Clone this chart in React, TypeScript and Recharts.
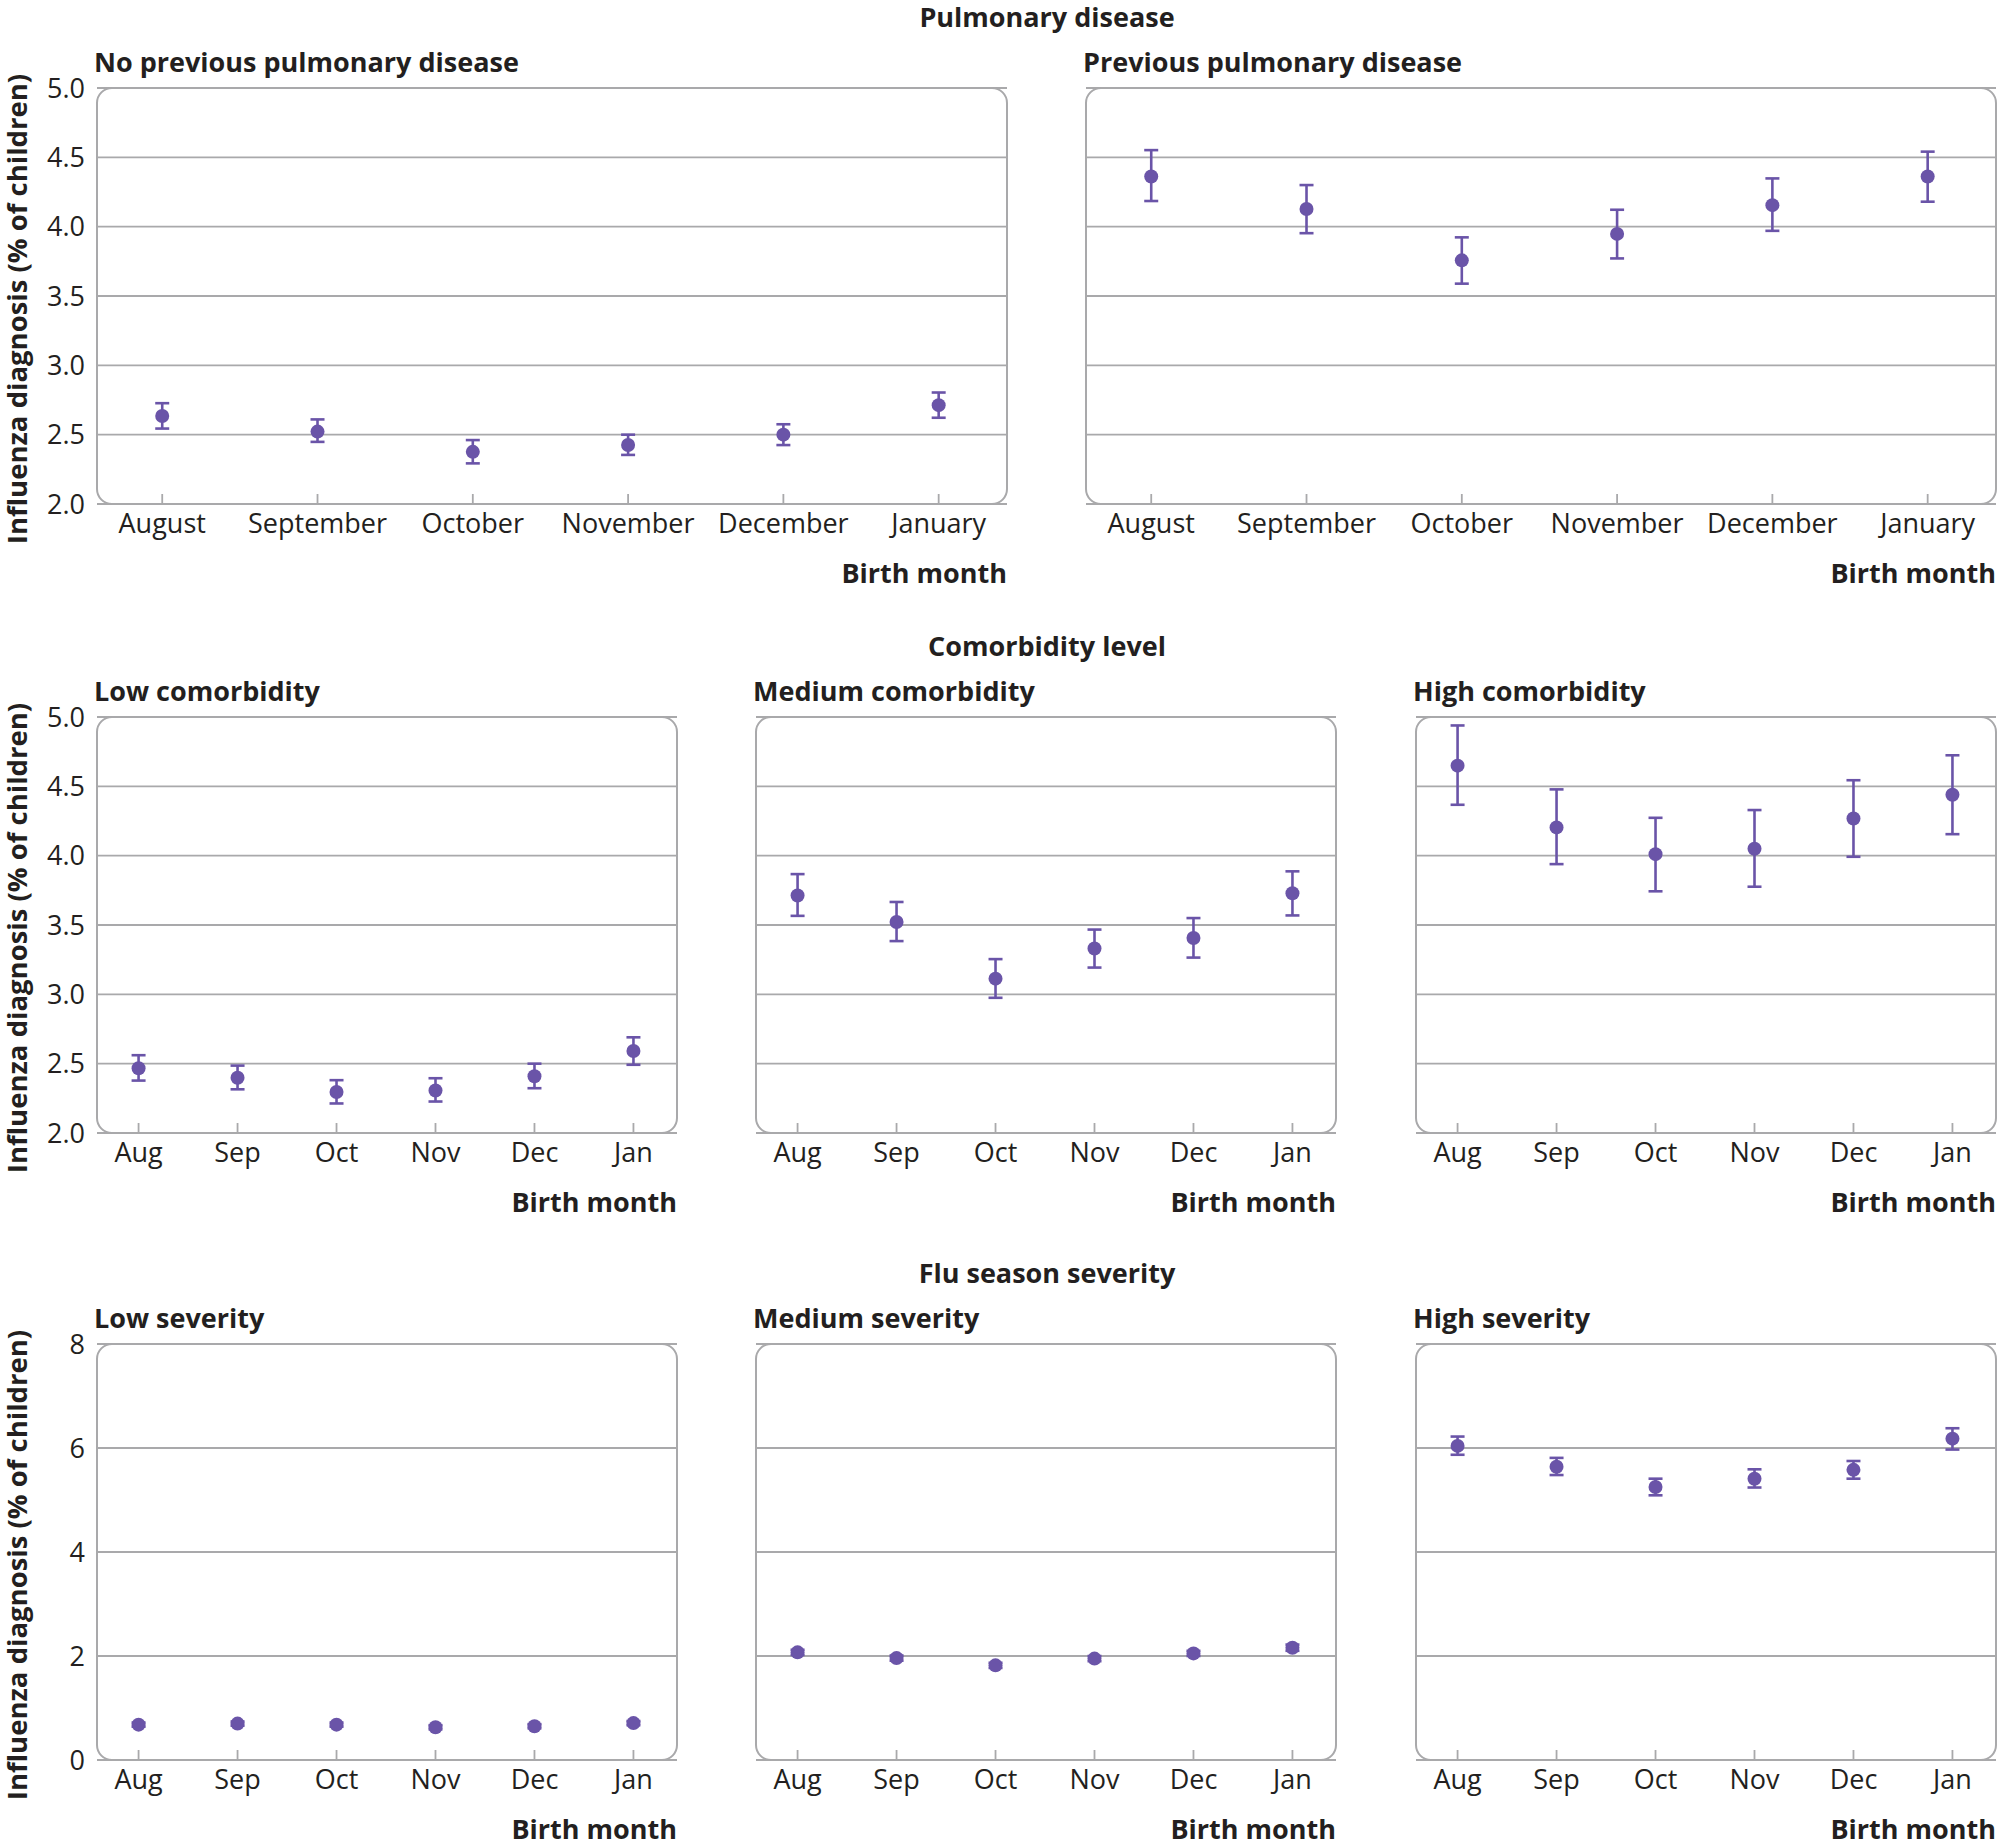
import React from "react";
import {
  ScatterChart,
  Scatter,
  XAxis,
  YAxis,
  CartesianGrid,
  ErrorBar,
  ReferenceArea,
} from "recharts";

const monthsLong = ["August", "September", "October", "November", "December", "January"];
const monthsShort = ["Aug", "Sep", "Oct", "Nov", "Dec", "Jan"];

// pulmonary disease
const noPulmVal = [2.635, 2.522, 2.376, 2.425, 2.5, 2.713];
const noPulmLow = [2.544, 2.448, 2.293, 2.354, 2.425, 2.622];
const noPulmHigh = [2.727, 2.61, 2.461, 2.5, 2.575, 2.804];

const pulmVal = [4.362, 4.127, 3.757, 3.948, 4.155, 4.362];
const pulmLow = [4.185, 3.953, 3.589, 3.771, 3.97, 4.18];
const pulmHigh = [4.552, 4.3, 3.923, 4.122, 4.348, 4.541];

// comorbidity level
const lowComVal = [2.467, 2.398, 2.296, 2.307, 2.409, 2.591];
const lowComLow = [2.378, 2.315, 2.213, 2.227, 2.323, 2.492];
const lowComHigh = [2.561, 2.486, 2.381, 2.395, 2.5, 2.69];

const medComVal = [3.713, 3.522, 3.113, 3.331, 3.406, 3.729];
const medComLow = [3.566, 3.384, 2.975, 3.193, 3.265, 3.569];
const medComHigh = [3.867, 3.666, 3.254, 3.467, 3.55, 3.887];

const highComVal = [4.649, 4.204, 4.011, 4.05, 4.268, 4.439];
const highComLow = [4.367, 3.939, 3.743, 3.776, 3.992, 4.155];
const highComHigh = [4.939, 4.478, 4.273, 4.329, 4.544, 4.724];

// flu season severity
const lowSevVal = [0.68, 0.7, 0.68, 0.63, 0.65, 0.71];
const lowSevLow = [0.64, 0.66, 0.64, 0.59, 0.61, 0.67];
const lowSevHigh = [0.72, 0.74, 0.72, 0.67, 0.69, 0.75];

const medSevVal = [2.07, 1.96, 1.82, 1.95, 2.05, 2.16];
const medSevLow = [2.02, 1.91, 1.77, 1.9, 2.0, 2.1];
const medSevHigh = [2.12, 2.01, 1.87, 2.0, 2.1, 2.22];

const highSevVal = [6.04, 5.64, 5.25, 5.41, 5.58, 6.18];
const highSevLow = [5.87, 5.48, 5.09, 5.24, 5.41, 5.97];
const highSevHigh = [6.22, 5.81, 5.41, 5.59, 5.75, 6.38];

const pctTicks = [2, 2.5, 3, 3.5, 4, 4.5, 5];
const sevTicks = [0, 2, 4, 6, 8];

const PURPLE = "#6a54a8";
const GRAY = "#a9a9ab";
const INK = "#231f20";
const FONT = "'Open Sans', sans-serif";
const FS = 27;

const X_DOMAIN = [-0.42, 5.44];
const PLOT_H = 416;
const M = 6;
const TOP_M = 22;

const build = (val: number[], low: number[], high: number[]) =>
  val.map((v, i) => ({ i, v, err: [v - low[i], high[i] - v] }));

type PanelProps = {
  title: string;
  labels: string[];
  data: { i: number; v: number; err: number[] }[];
  left: number;
  top: number;
  width: number;
  ticks: number[];
  showY: boolean;
  decimals: number;
};

const YAXIS_W = 77;

function Panel({ title, labels, data, left, top, width, ticks, showY, decimals }: PanelProps) {
  const yMin = ticks[0];
  const yMax = ticks[ticks.length - 1];
  const chartLeft = showY ? left - YAXIS_W - M : left - M;
  const chartW = width + (showY ? YAXIS_W : 0) + 2 * M;
  const chartH = PLOT_H + TOP_M + 44;

  const XTick = (p: any) => {
    const { x, y, payload } = p;
    return (
      <g>
        <line x1={x} x2={x} y1={y - 20} y2={y - 30} stroke={GRAY} strokeWidth={1.8} />
        <text x={x} y={y} dy="0.35em" textAnchor="middle" fill={INK} fontSize={FS}>
          {labels[payload.value]}
        </text>
      </g>
    );
  };

  return (
    <>
      <div
        style={{
          position: "absolute",
          left: left - 3,
          top: top - 27,
          transform: "translateY(-50%)",
          fontWeight: 700,
          fontSize: FS,
          lineHeight: 1,
          color: INK,
          whiteSpace: "nowrap",
        }}
      >
        {title}
      </div>
      <div style={{ position: "absolute", left: chartLeft, top: top - TOP_M }}>
        <ScatterChart width={chartW} height={chartH} margin={{ top: TOP_M, right: M, bottom: 0, left: M }}>
          <CartesianGrid vertical={false} stroke={GRAY} strokeWidth={1.8} />
          <XAxis
            type="number"
            dataKey="i"
            domain={X_DOMAIN}
            ticks={[0, 1, 2, 3, 4, 5]}
            allowDataOverflow
            axisLine={false}
            tickLine={false}
            tickSize={0}
            tickMargin={20}
            height={44}
            tick={XTick}
            interval={0}
          />
          <YAxis
            type="number"
            dataKey="v"
            domain={[yMin, yMax]}
            ticks={ticks}
            allowDataOverflow
            hide={!showY}
            width={YAXIS_W}
            axisLine={false}
            tickLine={false}
            tickSize={0}
            tickMargin={12}
            interval={0}
            tick={{ fill: INK, fontSize: FS }}
            tickFormatter={(v: number) => v.toFixed(decimals)}
          />
          <ReferenceArea
            x1={X_DOMAIN[0]}
            x2={X_DOMAIN[1]}
            y1={yMin}
            y2={yMax}
            ifOverflow="visible"
            shape={(p: any) => (
              <rect
                x={p.x}
                y={p.y}
                width={p.width}
                height={p.height}
                rx={15}
                ry={15}
                fill="none"
                stroke={GRAY}
                strokeWidth={2}
              />
            )}
          />
          <Scatter
            data={data}
            fill={PURPLE}
            isAnimationActive={false}
            shape={(p: any) => <circle cx={p.cx} cy={p.cy} r={7} fill={PURPLE} />}
          >
            <ErrorBar
              dataKey="err"
              direction="y"
              width={7}
              stroke={PURPLE}
              strokeWidth={2.6}
              isAnimationActive={false}
            />
          </Scatter>
        </ScatterChart>
      </div>
      <div
        style={{
          position: "absolute",
          left: left,
          width: width,
          top: top + PLOT_H + 68,
          transform: "translateY(-50%)",
          textAlign: "right",
          fontWeight: 700,
          fontSize: FS,
          lineHeight: 1,
          color: INK,
        }}
      >
        Birth month
      </div>
    </>
  );
}

const SectionTitle = ({ text, top }: { text: string; top: number }) => (
  <div
    style={{
      position: "absolute",
      left: 97,
      width: 1900,
      top: top - 72,
      transform: "translateY(-50%)",
      textAlign: "center",
      fontWeight: 700,
      fontSize: FS,
      lineHeight: 1,
      color: INK,
    }}
  >
    {text}
  </div>
);

const YLabel = ({ top }: { top: number }) => (
  <div
    style={{
      position: "absolute",
      left: 17,
      top: top + PLOT_H / 2 + 13,
      transform: "translate(-50%, -50%) rotate(-90deg)",
      fontWeight: 700,
      fontSize: 27.5,
      lineHeight: 1,
      color: INK,
      whiteSpace: "nowrap",
    }}
  >
    Influenza diagnosis (% of children)
  </div>
);

const ROW1 = 88;
const ROW2 = 717;
const ROW3 = 1344;
const COLS = [97, 756, 1416];
const W3 = 580;
const W2 = 910;

export default function App() {
  return (
    <div
      style={{
        position: "absolute",
        left: 0,
        top: 0,
        width: 2000,
        height: 1846,
        background: "#fff",
        fontFamily: FONT,
      }}
    >
      <SectionTitle text="Pulmonary disease" top={ROW1} />
      <SectionTitle text="Comorbidity level" top={ROW2} />
      <SectionTitle text="Flu season severity" top={ROW3} />
      <YLabel top={ROW1} />
      <YLabel top={ROW2} />
      <YLabel top={ROW3} />

      <Panel title="No previous pulmonary disease" labels={monthsLong} data={build(noPulmVal, noPulmLow, noPulmHigh)}
        left={97} top={ROW1} width={W2} ticks={pctTicks} showY decimals={1} />
      <Panel title="Previous pulmonary disease" labels={monthsLong} data={build(pulmVal, pulmLow, pulmHigh)}
        left={1086} top={ROW1} width={W2} ticks={pctTicks} showY={false} decimals={1} />

      <Panel title="Low comorbidity" labels={monthsShort} data={build(lowComVal, lowComLow, lowComHigh)}
        left={COLS[0]} top={ROW2} width={W3} ticks={pctTicks} showY decimals={1} />
      <Panel title="Medium comorbidity" labels={monthsShort} data={build(medComVal, medComLow, medComHigh)}
        left={COLS[1]} top={ROW2} width={W3} ticks={pctTicks} showY={false} decimals={1} />
      <Panel title="High comorbidity" labels={monthsShort} data={build(highComVal, highComLow, highComHigh)}
        left={COLS[2]} top={ROW2} width={W3} ticks={pctTicks} showY={false} decimals={1} />

      <Panel title="Low severity" labels={monthsShort} data={build(lowSevVal, lowSevLow, lowSevHigh)}
        left={COLS[0]} top={ROW3} width={W3} ticks={sevTicks} showY decimals={0} />
      <Panel title="Medium severity" labels={monthsShort} data={build(medSevVal, medSevLow, medSevHigh)}
        left={COLS[1]} top={ROW3} width={W3} ticks={sevTicks} showY={false} decimals={0} />
      <Panel title="High severity" labels={monthsShort} data={build(highSevVal, highSevLow, highSevHigh)}
        left={COLS[2]} top={ROW3} width={W3} ticks={sevTicks} showY={false} decimals={0} />
    </div>
  );
}
